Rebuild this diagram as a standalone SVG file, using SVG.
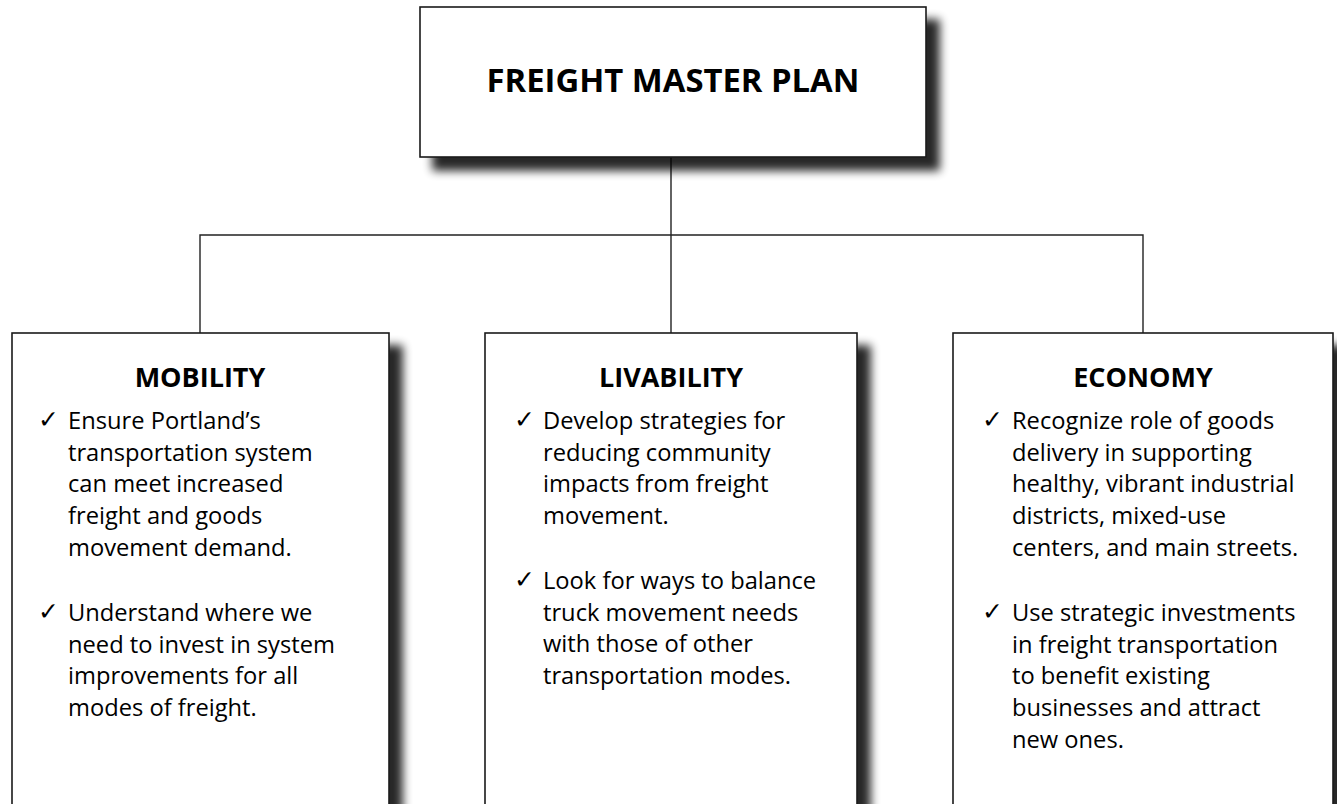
<svg xmlns="http://www.w3.org/2000/svg" width="1337" height="804" viewBox="0 0 1337 804">
  <style>
    .box { fill: #ffffff; stroke: #1a1a1a; stroke-width: 1.6; }
    .title { font-family: "Open Sans", "Noto Sans", sans-serif; font-weight: 700; font-size: 32.8px; fill: #000; text-anchor: middle; }
    .head { font-family: "Open Sans", "Noto Sans", sans-serif; font-weight: 700; font-size: 27px; fill: #000; text-anchor: middle; }
    .body { font-family: "Open Sans", "Noto Sans", sans-serif; font-size: 23.7px; fill: #000; }
    .chk { font-family: "DejaVu Sans", sans-serif; font-size: 25px; fill: #000; }
    .conn { fill: none; stroke: #222; stroke-width: 1.4; }
  </style>
  <defs>
    <filter id="sh" x="-10%" y="-10%" width="130%" height="140%">
      <feGaussianBlur in="SourceAlpha" stdDeviation="5"/>
      <feOffset dx="13" dy="13" result="b"/>
      <feComponentTransfer in="b" result="c"><feFuncA type="linear" slope="0.85"/></feComponentTransfer>
      <feMerge><feMergeNode in="c"/><feMergeNode in="SourceGraphic"/></feMerge>
    </filter>
  </defs>
  <rect width="1337" height="804" fill="#ffffff"/>

  <g id="connectors">
    <path class="conn" d="M671 157 V333"/>
    <path class="conn" d="M200 333 V235 H1143 V333"/>
  </g>

  <g id="root">
    <rect class="box" x="420" y="7" width="506" height="150" filter="url(#sh)"/>
    <text class="title" x="673" y="92">FREIGHT MASTER PLAN</text>
  </g>

  <g id="mobility">
    <rect class="box" x="12" y="333" width="377" height="500" filter="url(#sh)"/>
    <text class="head" x="200" y="387">MOBILITY</text>
    <text class="chk" x="38" y="428">✓</text>
    <text class="body" x="68" y="429">Ensure Portland’s</text>
    <text class="body" x="68" y="460.7">transportation system</text>
    <text class="body" x="68" y="492.4">can meet increased</text>
    <text class="body" x="68" y="524.1">freight and goods</text>
    <text class="body" x="68" y="555.8">movement demand.</text>
    <text class="chk" x="38" y="620">✓</text>
    <text class="body" x="68" y="621">Understand where we</text>
    <text class="body" x="68" y="652.7">need to invest in system</text>
    <text class="body" x="68" y="684.4">improvements for all</text>
    <text class="body" x="68" y="716.1">modes of freight.</text>
  </g>

  <g id="livability">
    <rect class="box" x="485" y="333" width="372" height="500" filter="url(#sh)"/>
    <text class="head" x="671" y="387">LIVABILITY</text>
    <text class="chk" x="514" y="428">✓</text>
    <text class="body" x="543" y="429">Develop strategies for</text>
    <text class="body" x="543" y="460.7">reducing community</text>
    <text class="body" x="543" y="492.4">impacts from freight</text>
    <text class="body" x="543" y="524.1">movement.</text>
    <text class="chk" x="514" y="588">✓</text>
    <text class="body" x="543" y="589">Look for ways to balance</text>
    <text class="body" x="543" y="620.7">truck movement needs</text>
    <text class="body" x="543" y="652.4">with those of other</text>
    <text class="body" x="543" y="684.1">transportation modes.</text>
  </g>

  <g id="economy">
    <rect class="box" x="953" y="333" width="380" height="500" filter="url(#sh)"/>
    <text class="head" x="1143" y="387">ECONOMY</text>
    <text class="chk" x="982" y="428">✓</text>
    <text class="body" x="1012" y="429">Recognize role of goods</text>
    <text class="body" x="1012" y="460.7">delivery in supporting</text>
    <text class="body" x="1012" y="492.4">healthy, vibrant industrial</text>
    <text class="body" x="1012" y="524.1">districts, mixed-use</text>
    <text class="body" x="1012" y="555.8">centers, and main streets.</text>
    <text class="chk" x="982" y="620">✓</text>
    <text class="body" x="1012" y="621">Use strategic investments</text>
    <text class="body" x="1012" y="652.7">in freight transportation</text>
    <text class="body" x="1012" y="684.4">to benefit existing</text>
    <text class="body" x="1012" y="716.1">businesses and attract</text>
    <text class="body" x="1012" y="747.8">new ones.</text>
  </g>
</svg>
